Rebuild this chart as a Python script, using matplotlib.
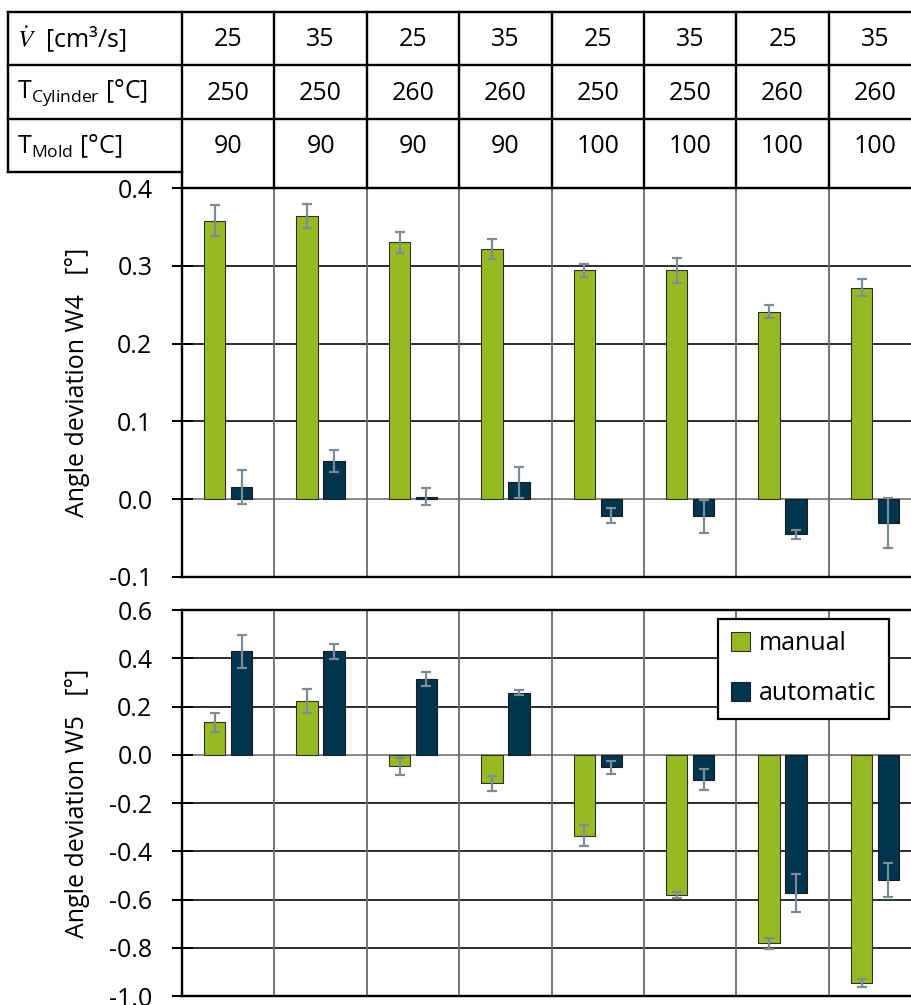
import matplotlib
matplotlib.use("Agg")
import matplotlib.pyplot as plt
import matplotlib.transforms as mtransforms
from matplotlib.lines import Line2D
from matplotlib.patches import Patch
import numpy as np

plt.rcParams['font.family'] = ['Open Sans', 'DejaVu Sans']
plt.rcParams['mathtext.fontset'] = 'stix'

# Process settings per test point
flow_rate = [25, 35, 25, 35, 25, 35, 25, 35]
t_cylinder = [250, 250, 260, 260, 250, 250, 260, 260]
t_mold = [90, 90, 90, 90, 100, 100, 100, 100]

# Angle deviation W4 [°]
w4_manual = [0.358, 0.364, 0.330, 0.322, 0.294, 0.294, 0.241, 0.272]
w4_manual_err = [0.020, 0.015, 0.013, 0.013, 0.008, 0.016, 0.008, 0.011]
w4_auto = [0.016, 0.049, 0.003, 0.022, -0.021, -0.022, -0.045, -0.031]
w4_auto_err = [0.022, 0.014, 0.011, 0.020, 0.010, 0.021, 0.006, 0.032]

# Angle deviation W5 [°]
w5_manual = [0.134, 0.224, -0.048, -0.119, -0.336, -0.580, -0.782, -0.946]
w5_manual_err = [0.039, 0.050, 0.036, 0.030, 0.043, 0.013, 0.024, 0.017]
w5_auto = [0.428, 0.428, 0.314, 0.258, -0.052, -0.104, -0.573, -0.518]
w5_auto_err = [0.067, 0.031, 0.030, 0.011, 0.027, 0.044, 0.078, 0.071]

w4_ticks = [-0.1, 0.0, 0.1, 0.2, 0.3, 0.4]
w5_ticks = [-1.0, -0.8, -0.6, -0.4, -0.2, 0.0, 0.2, 0.4, 0.6]

GREEN = '#97BA22'
NAVY = '#00344F'
ERR = '#7D8B94'
FS = 18

W, H = 912, 1005
fig = plt.figure(figsize=(W / 100, H / 100), dpi=100)


def px(v):
    return v * 72 / 100


def fx(x):
    return x / W


def fy(y):
    return 1 - y / H


x_left, x_right = 182, 912
ax1 = fig.add_axes([fx(x_left), fy(577), fx(x_right - x_left), (577 - 188) / H])
ax2 = fig.add_axes([fx(x_left), fy(996), fx(x_right - x_left), (996 - 610) / H])

n = len(flow_rate)
x = np.arange(n)
bw = 0.23
off = 0.146
col_w = 92.4
xmax = -0.5 + (x_right - x_left) / col_w


def style_axis(ax, ticks, ylim):
    ax.set_xlim(-0.5, xmax)
    ax.set_ylim(*ylim)
    ax.set_yticks(ticks)
    ax.set_yticklabels([f'{t:.1f}' for t in ticks])
    ax.set_xticks([])
    ax.tick_params(axis='y', direction='inout', length=px(21), width=px(2),
                   pad=px(19), labelsize=FS, colors='black')
    for t in ticks:
        if t != 0:
            ax.axhline(t, color='black', lw=px(1.6), zorder=1)
    ax.axhline(0, color='#8a8a8a', lw=px(2), zorder=1)
    for i in range(n - 1):
        ax.axvline(i + 0.5, color='#6a6a6a', lw=px(1.8), zorder=1)
    ax.spines['right'].set_visible(False)
    for s in ['left', 'top', 'bottom']:
        ax.spines[s].set_linewidth(px(2.4))
        ax.spines[s].set_color('black')
        ax.spines[s].set_zorder(5)


def draw_bars(ax, m, me, a, ae):
    ekw = dict(ecolor=ERR, elinewidth=px(2.2), capsize=px(5), capthick=px(2.2))
    ax.bar(x - off, m, bw, color=GREEN, edgecolor='#2e2e2e', lw=px(1.1),
           yerr=me, error_kw=ekw, zorder=3, label='manual')
    ax.bar(x + off, a, bw, color=NAVY, edgecolor='#1c1c1c', lw=px(1.1),
           yerr=ae, error_kw=ekw, zorder=3, label='automatic')


style_axis(ax1, w4_ticks, (-0.1, 0.4))
style_axis(ax2, w5_ticks, (-1.0, 0.6))
draw_bars(ax1, w4_manual, w4_manual_err, w4_auto, w4_auto_err)
draw_bars(ax2, w5_manual, w5_manual_err, w5_auto, w5_auto_err)

fig.text(fx(78), fy(382.5), 'Angle deviation W4   [°]', rotation=90,
         ha='center', va='center', fontsize=FS)
fig.text(fx(78), fy(803), 'Angle deviation W5   [°]', rotation=90,
         ha='center', va='center', fontsize=FS)

handles = [Patch(facecolor=GREEN, edgecolor='#2e2e2e', lw=px(1.1)),
           Patch(facecolor=NAVY, edgecolor='#1c1c1c', lw=px(1.1))]
leg = ax2.legend(handles, ['manual', 'automatic'], loc='upper right',
                 bbox_to_anchor=((889 - x_left) / (x_right - x_left), (996 - 619) / 386),
                 borderaxespad=0, fontsize=FS, frameon=True, fancybox=False,
                 edgecolor='black', framealpha=1, labelspacing=1.0,
                 handlelength=0.78, handleheight=0.78, handletextpad=0.35,
                 borderpad=0.5)
leg.get_frame().set_linewidth(px(2.2))
leg.set_zorder(10)

# Parameter table above the chart
blend = mtransforms.blended_transform_factory(ax1.transData, fig.transFigure)
row_lines = [12, 65, 119]
row_centers = [39.5, 93, 146.5]
lw_tab = px(2.4)

for y in row_lines:
    fig.add_artist(Line2D([fx(8), 1.0], [fy(y), fy(y)], color='black', lw=lw_tab))
fig.add_artist(Line2D([fx(8), fx(x_left)], [fy(172), fy(172)], color='black', lw=lw_tab))
fig.add_artist(Line2D([fx(8), fx(8)], [fy(12), fy(172)], color='black', lw=lw_tab))
for i in range(n):
    fig.add_artist(Line2D([i - 0.5, i - 0.5], [fy(12), fy(188)], color='black',
                          lw=lw_tab, transform=blend))

row_labels = [r'$\dot{V}$  [cm³/s]', r'$\mathregular{T_{Cylinder}}$ [°C]',
              r'$\mathregular{T_{Mold}}$ [°C]']
for lab, yc in zip(row_labels, row_centers):
    fig.text(fx(17), fy(yc), lab, ha='left', va='center', fontsize=FS)

for row, yc in zip([flow_rate, t_cylinder, t_mold], row_centers):
    for i, v in enumerate(row):
        fig.text(i, fy(yc), str(v), ha='center', va='center', fontsize=FS,
                 transform=blend)

fig.savefig('out.png', dpi=100)
